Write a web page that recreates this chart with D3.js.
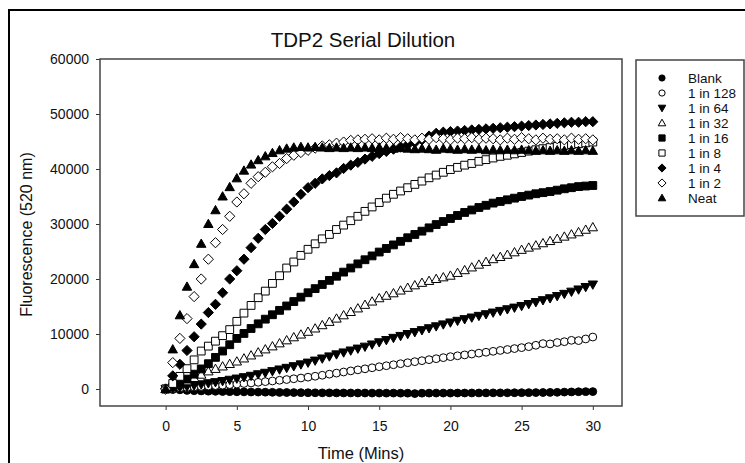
<!DOCTYPE html>
<html><head><meta charset="utf-8">
<script src="https://cdn.jsdelivr.net/npm/d3@7"></script>
<style>
html,body{margin:0;padding:0;background:#fff;}
svg{display:block;font-family:"Liberation Sans",Arial,sans-serif;}
</style></head>
<body><svg id="c" width="745" height="463"></svg>
<script>
const title = "TDP2 Serial Dilution";
const xLabel = "Time (Mins)";
const yLabel = "Fluorescence (520 nm)";
const xTicks = [0, 5, 10, 15, 20, 25, 30];
const yTicks = [0, 10000, 20000, 30000, 40000, 50000, 60000];
const seriesNames = ["Blank","1 in 128","1 in 64","1 in 32","1 in 16","1 in 8","1 in 4","1 in 2","Neat"];
const seriesShapes = ["circle","circle","triDown","triUp","square","square","diamond","diamond","triUp"];
const seriesFilled = [true,false,true,false,true,false,true,false,true];
const times = [0,0.5,1,1.5,2,2.5,3,3.5,4,4.5,5,5.5,6,6.5,7,7.5,8,8.5,9,9.5,10,10.5,11,11.5,12,12.5,13,13.5,14,14.5,15,15.5,16,16.5,17,17.5,18,18.5,19,19.5,20,20.5,21,21.5,22,22.5,23,23.5,24,24.5,25,25.5,26,26.5,27,27.5,28,28.5,29,29.5,30];
const blank = [0,-100,-150,-250,-300,-350,-400,-420,-450,-480,-500,-520,-550,-560,-580,-600,-620,-640,-650,-660,-680,-690,-700,-700,-710,-720,-720,-730,-730,-740,-740,-750,-740,-760,-760,-830,-760,-750,-740,-740,-740,-730,-730,-720,-720,-710,-700,-700,-690,-680,-670,-660,-650,-640,-620,-600,-560,-530,-500,-480,-470];
const d128 = [0,80,180,280,380,460,540,620,700,800,900,1000,1100,1220,1340,1460,1590,1720,1860,2000,2150,2320,2500,2700,2890,3090,3290,3480,3670,3860,4050,4230,4410,4600,4780,4970,5150,5330,5510,5700,5880,6040,6200,6360,6520,6680,6850,7010,7180,7350,7520,7700,7950,8250,8200,8450,8600,8850,8800,9100,9450];
const d64 = [0,150,300,470,650,850,1050,1250,1450,1680,1900,2150,2400,2680,2950,3250,3550,3850,4150,4480,4800,5170,5550,5930,6300,6650,7000,7350,7700,8100,8500,8900,9300,9650,10000,10350,10700,11050,11400,11750,12100,12400,12700,13000,13300,13600,13900,14200,14500,14800,15100,15450,15800,16150,16500,16900,17300,17700,18100,18550,19000];
const d32 = [0,350,800,1400,2000,2600,3200,3650,4100,4550,5000,5550,6100,6650,7200,7750,8300,8850,9400,9900,10400,11000,11600,12200,12800,13400,14000,14650,15300,15900,16500,16950,17400,17900,18400,18850,19300,19650,20000,20300,20600,21100,21600,22100,22600,23100,23600,24000,24400,24850,25300,25700,26100,26500,26900,27300,27700,28100,28500,28950,29400];
const d16 = [0,400,1000,1800,2700,3650,4600,5750,6900,8050,9200,10100,11000,11850,12700,13500,14300,15100,15900,16700,17500,18250,19000,19750,20500,21250,22000,22750,23500,24200,24900,25550,26200,26850,27500,28100,28700,29300,29900,30450,31000,31550,32100,32550,33000,33400,33800,34100,34400,34700,35000,35250,35500,35700,35900,36150,36400,36600,36800,36900,37000];
const d8 = [0,1000,2300,3700,5300,6900,7800,8700,9700,10800,12300,13800,15200,16600,17800,19200,20600,22000,23100,24300,25400,26400,27300,28100,29000,29800,30600,31400,32300,33100,33900,34700,35400,36000,36600,37200,37800,38400,38900,39400,39900,40300,40700,41000,41400,41700,42000,42300,42500,42750,43000,43250,43500,43700,43900,44100,44300,44450,44600,44750,44900];
const d4 = [0,2400,4500,7000,9500,11800,13900,15400,17500,20000,21500,23600,25700,27400,29000,30100,31400,32700,34000,35400,36600,37400,38200,38800,39300,40100,40700,41200,41800,42300,42800,43200,43600,44000,44400,44800,45300,46000,46500,46700,46800,46900,47000,47100,47200,47300,47400,47500,47600,47700,47800,47900,48000,48100,48200,48300,48400,48500,48500,48600,48600];
const d2 = [0,4800,9200,12800,16800,20000,23600,26600,29000,31400,34000,35500,37400,38600,39400,40400,41000,41900,42500,43000,43400,43800,44200,44400,44700,44900,45200,45300,45400,45500,45300,45600,45400,45700,45500,45300,45600,45400,45700,45500,45300,45600,45500,45700,45400,45600,45500,45300,45600,45400,45700,45500,45300,45600,45400,45500,45300,45600,45400,45500,45300];
const neat = [0,7200,13400,18600,22700,26400,30000,32500,35000,36700,38300,39700,40800,41600,42300,42900,43400,43700,43900,44000,43900,44000,43900,43800,43900,43800,43900,43800,43900,43800,43900,43800,43700,43800,43700,43600,43700,43600,43500,43700,43600,43500,43600,43500,43600,43400,43500,43400,43500,43400,43500,43400,43300,43400,43300,43400,43300,43400,43300,43400,43300];
const seriesValues = [blank,d128,d64,d32,d16,d8,d4,d2,neat];

const svg = d3.select("#c");
svg.append("rect").attr("x",9).attr("y",10).attr("width",800).attr("height",500)
  .attr("fill","none").attr("stroke","#000").attr("stroke-width",2);

const L=100, R=622, T=59, B=406;
const x = d3.scaleLinear().domain([-4.61, 32.05]).range([L, R]);
const y = d3.scaleLinear().domain([-3090, 60000]).range([B, T]);

function sym(shape, s){
  s = s||1;
  if(shape==="circle"){const r=3.9*s;return `M${r},0A${r},${r} 0 1,1 ${-r},0A${r},${r} 0 1,1 ${r},0Z`;}
  if(shape==="square"){const h=3.9*s;return `M${-h},${-h}H${h}V${h}H${-h}Z`;}
  if(shape==="diamond"){const h=5.1*s;return `M0,${-h}L${h},0L0,${h}L${-h},0Z`;}
  if(shape==="triUp"){const w=4.7*s,t=4.8*s,b=3.5*s;return `M0,${-t}L${w},${b}L${-w},${b}Z`;}
  if(shape==="triDown"){const w=4.7*s,t=4.8*s,b=3.5*s;return `M0,${t}L${w},${-b}L${-w},${-b}Z`;}
}

const yAxis = d3.axisLeft(y).tickValues(yTicks).tickSize(4).tickPadding(7).tickFormat(d3.format("d"));
const gy = svg.append("g").attr("transform",`translate(${L},0)`).call(yAxis);
gy.select(".domain").remove();
gy.selectAll("line").attr("stroke","#333");
gy.selectAll("text").attr("font-size",14).attr("fill","#111").attr("font-family","Liberation Sans, Arial, sans-serif");

const xAxis = d3.axisBottom(x).tickValues(xTicks).tickSize(4).tickPadding(11);
const gx = svg.append("g").attr("transform",`translate(0,${B})`).call(xAxis);
gx.select(".domain").remove();
gx.selectAll("line").attr("stroke","#333");
gx.selectAll("text").attr("font-size",14).attr("fill","#111").attr("font-family","Liberation Sans, Arial, sans-serif");

svg.append("rect").attr("x",L).attr("y",T).attr("width",R-L).attr("height",B-T)
  .attr("fill","none").attr("stroke","#444").attr("stroke-width",1.5);

seriesValues.forEach((vals,i)=>{
  const g = svg.append("g");
  g.selectAll("path").data(vals).join("path")
    .attr("d", sym(seriesShapes[i]))
    .attr("transform",(v,j)=>`translate(${x(times[j])},${y(v)})`)
    .attr("fill", seriesFilled[i] ? "#000" : "#fff")
    .attr("stroke","#000").attr("stroke-width",1);
});

svg.append("text").attr("x",363).attr("y",47).attr("text-anchor","middle")
  .attr("font-size",20.5).attr("fill","#111").text(title);
svg.append("text").attr("x",361).attr("y",459).attr("text-anchor","middle")
  .attr("font-size",16.5).attr("fill","#111").text(xLabel);
svg.append("text").attr("transform","translate(32,234.5) rotate(-90)").attr("text-anchor","middle")
  .attr("font-size",16).attr("fill","#111").text(yLabel);

svg.append("rect").attr("x",636).attr("y",60).attr("width",108).attr("height",156)
  .attr("fill","#fff").attr("stroke","#444").attr("stroke-width",1.5);
seriesNames.forEach((n,i)=>{
  const yy = 78 + i*15;
  svg.append("path").attr("d", sym(seriesShapes[i], 0.8))
    .attr("transform",`translate(662,${yy})`)
    .attr("fill", seriesFilled[i] ? "#000" : "#fff").attr("stroke","#000").attr("stroke-width",1);
  svg.append("text").attr("x",688).attr("y",yy+4.5).attr("font-size",13.5).attr("fill","#111").text(n);
});
</script></body></html>
